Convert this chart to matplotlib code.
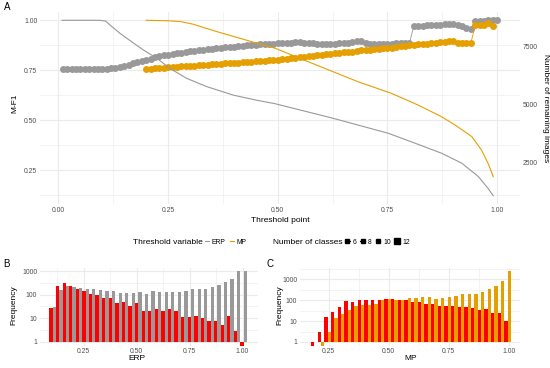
import numpy as np
import matplotlib.pyplot as plt
from matplotlib.lines import Line2D

plt.rcParams['font.family'] = ['Liberation Sans', 'DejaVu Sans']

GRAY = '#999999'
ORANGE = '#E69F00'
RED = '#FF0000'
GRID = '#EBEBEB'
TICK = '#4D4D4D'

# ---- panel A data ----
total_images = 8650

erp_thr = np.round(np.arange(0.01, 1.001, 0.01), 2)
erp_mf1 = [0.757, 0.757, 0.757, 0.757, 0.757, 0.757, 0.757, 0.757, 0.757, 0.757,
           0.758, 0.760, 0.763, 0.767, 0.772, 0.778, 0.784, 0.790, 0.796, 0.802,
           0.808, 0.814, 0.819, 0.824, 0.828, 0.831, 0.834, 0.838, 0.841, 0.844,
           0.847, 0.850, 0.852, 0.855, 0.857, 0.860, 0.862, 0.864, 0.866, 0.868,
           0.870, 0.872, 0.874, 0.876, 0.878, 0.879, 0.880, 0.881, 0.882, 0.884,
           0.885, 0.886, 0.888, 0.890, 0.890, 0.888, 0.886, 0.884, 0.882, 0.881,
           0.880, 0.880, 0.882, 0.884, 0.886, 0.888, 0.891, 0.895, 0.898, 0.885,
           0.882, 0.880, 0.881, 0.882, 0.882, 0.883, 0.884, 0.884, 0.885, 0.886,
           0.972, 0.972, 0.973, 0.974, 0.975, 0.976, 0.978, 0.980, 0.982, 0.980,
           0.978, 0.972, 0.962, 0.955, 0.995, 0.996, 0.998, 1.000, 1.000, 1.000]

mp_thr = np.round(np.arange(0.20, 0.991, 0.01), 2)
mp_mf1 = [0.757, 0.758, 0.760, 0.761, 0.763, 0.764, 0.766, 0.767, 0.769, 0.770,
          0.772, 0.773, 0.775, 0.776, 0.778, 0.779, 0.781, 0.782, 0.784, 0.785,
          0.787, 0.788, 0.790, 0.791, 0.793, 0.794, 0.796, 0.797, 0.799, 0.800,
          0.802, 0.805, 0.807, 0.810, 0.812, 0.815, 0.817, 0.820, 0.822, 0.825,
          0.827, 0.830, 0.832, 0.835, 0.837, 0.839, 0.841, 0.843, 0.846, 0.849,
          0.851, 0.853, 0.855, 0.857, 0.859, 0.861, 0.863, 0.866, 0.869, 0.872,
          0.875, 0.877, 0.879, 0.881, 0.883, 0.885, 0.887, 0.889, 0.891, 0.894,
          0.898, 0.886, 0.885, 0.885, 0.886, 0.975, 0.975, 0.978, 0.988, 0.972]

erp_line_x = [0.008, 0.05, 0.095, 0.108, 0.118, 0.140, 0.167, 0.194, 0.224, 0.254, 0.292,
              0.338, 0.399, 0.452, 0.494, 0.626, 0.752, 0.813, 0.873, 0.919, 0.957,
              0.979, 0.991]
erp_images = [8650, 8650, 8650, 8610, 8440, 8090, 7720, 7360, 7010, 6570, 6140,
              5780, 5410, 5190, 5040, 4410, 3760, 3330, 2900, 2470, 1890,
              1380, 1060]

mp_line_x = [0.20, 0.25, 0.28, 0.307, 0.361, 0.414, 0.467, 0.494, 0.569, 0.683,
             0.759, 0.82, 0.873, 0.904, 0.942, 0.964, 0.979, 0.991]
mp_images = [8650, 8630, 8590, 8480, 8160, 7870, 7580, 7440, 6860, 5990,
             5490, 4980, 4480, 4120, 3620, 3040, 2470, 1890]

# ---- panel B / C histograms ----
erp_bin_start, erp_bin_w = 0.103, 0.0311
erp_mis = [27, 240, 310, 225, 180, 138, 110, 97, 72, 70, 44, 49, 32, 43, 20,
           20, 25, 21, 25, 21, 11, 11, 12, 10, 8, 8, 5, 13, 3, 1]
erp_cor = [30, 163, 233, 204, 200, 168, 173, 152, 147, 138, 117, 121, 117, 130, 110,
           138, 130, 133, 133, 125, 143, 168, 178, 175, 218, 265, 345, 460, 970, 970]

mp_bin_start, mp_bin_w = 0.19, 0.0278
mp_mis = [1, 3, 15, 27, 47, 92, 82, 102, 102, 100, 100, 118, 118, 98, 100,
          79, 85, 63, 66, 53, 51, 51, 46, 47, 42, 35, 39, 23, 23, 10]
mp_cor = [0, 1, 3, 14, 22, 33, 53, 57, 61, 68, 106, 118, 106, 102, 127,
          127, 142, 142, 114, 127, 142, 153, 198, 198, 198, 256, 345, 460, 830, 2400]

W, H = 550, 368
fig = plt.figure(figsize=(5.5, 3.68), dpi=100)


def box(l, t, r, b):
    return [l / W, 1 - b / H, (r - l) / W, (b - t) / H]


def style(ax):
    for s in ax.spines.values():
        s.set_visible(False)
    ax.tick_params(which='both', length=0, labelsize=4.9, labelcolor=TICK, pad=2)
    ax.grid(which='major', color=GRID, lw=0.8)
    ax.grid(which='minor', color=GRID, lw=0.4)
    ax.set_axisbelow(True)


# ---- A ----
axA = fig.add_axes(box(40, 11.5, 520, 204))
style(axA)
axA.plot(erp_thr, erp_mf1, '-', color=GRAY, lw=0.6, zorder=2)
axA.plot(erp_thr, erp_mf1, 'o', color=GRAY, ms=5, mew=0, zorder=2)
axA.plot(mp_thr, mp_mf1, '-', color=ORANGE, lw=0.6, zorder=2)
axA.plot(mp_thr, mp_mf1, 'o', color=ORANGE, ms=5, mew=0, zorder=2)
axA.plot(erp_line_x, np.array(erp_images) / total_images, color=GRAY, lw=0.8, zorder=3)
axA.plot(mp_line_x, np.array(mp_images) / total_images, color=ORANGE, lw=0.8, zorder=3)
axA.set_xlim(-0.042, 1.052)
axA.set_ylim(0.081, 1.044)
axA.set_xticks([0, 0.25, 0.5, 0.75, 1.0])
axA.set_xticks([0.125, 0.375, 0.625, 0.875], minor=True)
axA.set_yticks([0.25, 0.5, 0.75, 1.0])
axA.set_yticks([0.125, 0.375, 0.625, 0.875], minor=True)
axA.xaxis.set_major_formatter(lambda v, p: f'{v:.2f}')
axA.yaxis.set_major_formatter(lambda v, p: f'{v:.2f}')
sec = axA.secondary_yaxis('right', functions=(lambda y: y * total_images,
                                              lambda v: v / total_images))
sec.set_yticks([2500, 5000, 7500])
sec.tick_params(length=0, labelsize=4.9, labelcolor=TICK, pad=2)
for s in sec.spines.values():
    s.set_visible(False)

fig.text(7 / W, 1 - 7 / H, 'A', fontsize=7, ha='center', va='center')
fig.text(15 / W, 1 - 103 / H, 'M-F1', fontsize=6, rotation=90, ha='center', va='center')
fig.text(280 / W, 1 - 221 / H, 'Threshold point', fontsize=6, ha='center', va='center')
fig.text(545 / W, 1 - 108 / H, 'Number of remaining images', fontsize=6,
         rotation=-90, ha='center', va='center')

# ---- legends ----
ly = 1 - 242 / H
fig.text(133 / W, ly, 'Threshold variable', fontsize=6, ha='left', va='center')
fig.legend([Line2D([], [], color=GRAY, lw=0.8), Line2D([], [], color=ORANGE, lw=0.8)],
           ['ERP', 'MP'], loc='center left', bbox_to_anchor=(205 / W, ly),
           ncol=2, frameon=False, fontsize=4.9, handlelength=0.6,
           handletextpad=0.4, columnspacing=0.6, borderpad=0, borderaxespad=0)
fig.text(273 / W, ly, 'Number of classes', fontsize=6, ha='left', va='center')
classes = [6, 8, 10, 12]
h2 = [Line2D([], [], color='black', lw=0.8, marker='s', ms=2.3 + 0.25 * (c - 6))
      for c in classes]
fig.legend(h2, [str(c) for c in classes], loc='center left', bbox_to_anchor=(345 / W, ly),
           ncol=4, frameon=False, fontsize=4.9, handlelength=0.7,
           handletextpad=0.4, columnspacing=0.6, borderpad=0, borderaxespad=0)


# ---- B / C ----
def hist_panel(ax, start, w, left_counts, right_counts, right_color, ylo):
    centers = start + w * np.arange(len(left_counts))
    for counts, color, off in [(left_counts, RED, -w / 4), (right_counts, right_color, w / 4)]:
        c = np.array(counts, dtype=float)
        bottom = np.where(c == 1, ylo, 1.0)
        top = np.where(c == 0, 1.0, c)
        ax.bar(centers + off, top - bottom, bottom=bottom, width=w / 2,
               color=color, linewidth=0, zorder=2)
    ax.set_yscale('log')
    ax.set_yticks([1, 10, 100, 1000])
    ax.set_yticklabels(['1', '10', '100', '1000'])
    ax.set_yticks([10 ** 0.5, 10 ** 1.5, 10 ** 2.5, 10 ** 3.5], minor=True)
    ax.yaxis.set_minor_formatter(plt.NullFormatter())
    ax.set_xticks([0.25, 0.5, 0.75, 1.0])
    ax.set_xticks([0.125, 0.375, 0.625, 0.875], minor=True)
    ax.xaxis.set_major_formatter(lambda v, p: f'{v:.2f}')
    style(ax)


ylo_B = 10 ** -0.15
axB = fig.add_axes(box(40, 267.7, 258, 345.5))
hist_panel(axB, erp_bin_start, erp_bin_w, erp_mis, erp_cor, GRAY, ylo_B)
axB.set_xlim(0.043, 1.073)
axB.set_ylim(ylo_B, 10 ** 3.14)

ylo_C = 10 ** -0.169
axC = fig.add_axes(box(300, 267.7, 520, 345.5))
hist_panel(axC, mp_bin_start, mp_bin_w, mp_mis, mp_cor, ORANGE, ylo_C)
axC.set_xlim(0.13, 1.047)
axC.set_ylim(ylo_C, 10 ** 3.55)

fig.text(6 / W, 1 - 264 / H, 'B', fontsize=7, ha='center', va='center')
fig.text(270 / W, 1 - 264 / H, 'C', fontsize=7, ha='center', va='center')
fig.text(14 / W, 1 - 305 / H, 'Frequency', fontsize=6, rotation=90, ha='center', va='center')
fig.text(280 / W, 1 - 305 / H, 'Frequency', fontsize=6, rotation=90, ha='center', va='center')
fig.text(137 / W, 1 - 359 / H, 'ERP', fontsize=6, ha='center', va='center')
fig.text(411 / W, 1 - 359 / H, 'MP', fontsize=6, ha='center', va='center')

fig.savefig('out.png', dpi=100)
